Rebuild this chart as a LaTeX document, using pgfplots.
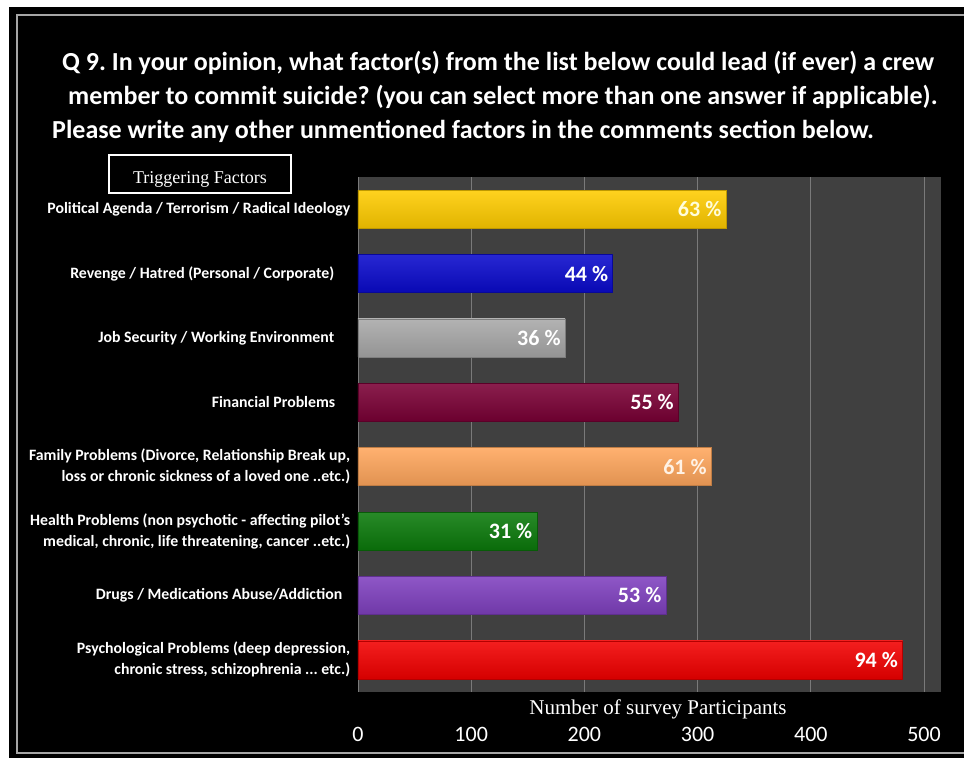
\documentclass[border=0pt]{standalone}
\usepackage{fontspec}
\setmainfont{Carlito}
\newfontfamily\seriffont{Liberation Serif}
\usepackage{pgfplots}
\pgfplotsset{compat=1.18}
\frenchspacing
\definecolor{plotbg}{HTML}{404040}
\definecolor{gridc}{HTML}{7A7A7A}
\definecolor{cYellow}{HTML}{FFCC00}
\definecolor{cBlue}{HTML}{0A0ACC}
\definecolor{cGray}{HTML}{A8A8A8}
\definecolor{cMaroon}{HTML}{7A0035}
\definecolor{cOrange}{HTML}{FFA65C}
\definecolor{cGreen}{HTML}{0B7A0B}
\definecolor{cPurple}{HTML}{7F40BF}
\definecolor{cRed}{HTML}{F20000}
\pgfplotsset{
  mybar/.style={bar shift=0pt, bar width=38pt, draw=#1!75!black, line width=0.6pt,
    top color=#1!88!white, middle color=#1, bottom color=#1!88!black,
    nodes near coords, point meta=explicit symbolic,
    every node near coord/.append style={anchor=east, xshift=-1pt, text=white,
      font=\bfseries\fontsize{22}{24}\selectfont}},
}
\begin{document}
\begin{tikzpicture}[x=1pt,y=1pt]
\useasboundingbox (0,0) rectangle (964,-758);
\fill[white] (0,0) rectangle (964,-758);
\fill[black] (9,-7) rectangle (964,-758);
\draw[gray!70, line width=1.2pt] (966,-15) -- (17,-15) -- (17,-753) -- (966,-753);
\begin{scope}[every node/.style={anchor=base west, text=white, inner sep=0pt, font=\bfseries\fontsize{26}{30}\selectfont}]
\node at (62,-70) {Q 9. In your opinion, what factor(s) from the list below could lead (if ever) a crew};
\node at (68,-104) {member to commit suicide? (you can select more than one answer if applicable).};
\node at (52,-138) {Please write any other unmentioned factors in the comments section below.};
\end{scope}
\begin{axis}[
  at={(358pt,-692pt)}, anchor=south west,
  scale only axis, width=583pt, height=515pt,
  xbar,
  xmin=0, xmax=515, ymin=-0.5, ymax=7.5, y dir=reverse,
  axis background/.style={fill=plotbg},
  axis line style={draw=none},
  tick style={draw=none},
  xmajorgrids, grid style={gridc, line width=0.8pt},
  xtick={0,100,200,300,400,500},
  /pgf/number format/assume math mode=true,
  xticklabel style={text=white, font=\fontsize{22}{24}\selectfont, yshift=-32pt},
  ytick={0,1,2,3,4,5,6,7},
  yticklabel style={align=right, text=white, font=\bfseries\fontsize{15.8}{21}\selectfont},
  yticklabels={
    {Political Agenda / Terrorism / Radical Ideology},
    {Revenge / Hatred (Personal / Corporate)\hspace{16pt}\mbox{}},
    {Job Security / Working Environment\hspace{16pt}\mbox{}},
    {Financial Problems\hspace{15pt}\mbox{}},
    {Family Problems (Divorce, Relationship Break up,\\loss or chronic sickness of a loved one .{}.etc.)},
    {Health Problems (non psychotic - affecting pilot's\\medical, chronic, life threatening, cancer .{}.etc.)},
    {Drugs / Medications Abuse/Addiction\hspace{8pt}\mbox{}},
    {Psychological Problems (deep depression,\\chronic stress, schizophrenia .{}.{}. etc.)}
  },
]
\addplot[mybar=cYellow, every node near coord/.append style={text=yellow!15!white}] coordinates {(325,0) [63 \%]};
\addplot[mybar=cBlue] coordinates {(225,1) [44 \%]};
\addplot[mybar=cGray] coordinates {(183,2) [36 \%]};
\addplot[mybar=cMaroon] coordinates {(283,3) [55 \%]};
\addplot[mybar=cOrange, every node near coord/.append style={text=orange!10!white}] coordinates {(312,4) [61 \%]};
\addplot[mybar=cGreen] coordinates {(158,5) [31 \%]};
\addplot[mybar=cPurple] coordinates {(272,6) [53 \%]};
\addplot[mybar=cRed] coordinates {(481,7) [94 \%]};
\end{axis}
\node[anchor=base, text=white, inner sep=0pt, font=\seriffont\fontsize{21}{24}\selectfont] at (658,-714) {Number of survey Participants};
\draw[white, line width=1.5pt, fill=black] (109,-155) rectangle (291,-193);
\begin{scope}
\clip (109,-155) rectangle (291,-186.5);
\node[anchor=base, text=white, inner sep=0pt, font=\seriffont\fontsize{18}{20}\selectfont] at (200,-183) {Triggering Factors};
\end{scope}
\end{tikzpicture}
\end{document}
